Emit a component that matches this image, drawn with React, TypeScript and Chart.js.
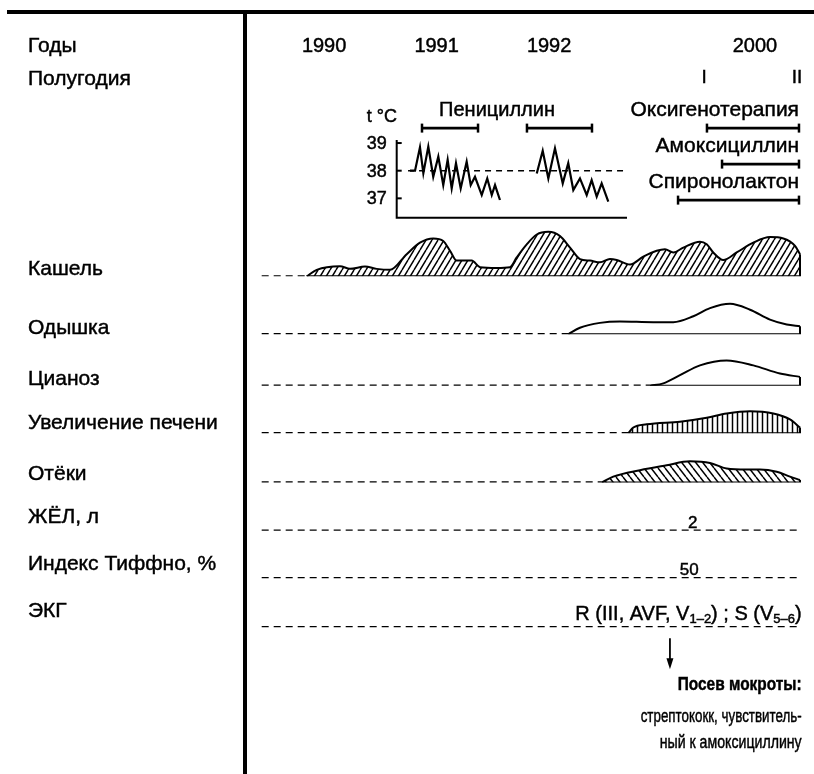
import React, { useEffect, useRef } from 'react';
import { Chart, registerables } from 'chart.js';

Chart.register(...registerables);

const FONT = "'Liberation Sans', Arial, Helvetica, sans-serif";

// ---- timeline (abstract time units; 1990 = 0, 1991 = 10, 1992 = 20, 2000 squeezed at the end)
const X_MIN = -5.7;
const X_MAX = 42.656;
const DASH_START = -5.55;
const DASH_END = 42.45;

const YEAR_LABELS = ['1990', '1991', '1992', '2000'];
const YEAR_POS = [0, 10, 20, 38.3];
const HALF_LABELS = ['I', 'II'];
const HALF_POS = [33.77, 42.03];

// ---- treatment bars
const DRUG_BAR_START = [8.7, 18.03, 34.03, 35.37, 31.46];
const DRUG_BAR_END = [13.68, 23.81, 42.21, 42.21, 42.21];
const DRUG_BAR_ROW = [0, 0, 0, 1, 2];
const DRUG_LABELS = ['Пенициллин', 'Оксигенотерапия', 'Амоксициллин', 'Спиронолактон'];
const DRUG_LABEL_POS = [15.37, 42.21, 42.21, 42.21];
const DRUG_LABEL_ROW = [0, 0, 1, 2];

// ---- symptom intensity curves (arbitrary intensity units)
const COUGH_X = [-1.55, -0.66, 1.41, 2.3, 3.63, 4.67, 5.86, 7.34, 8.52, 9.7, 10.59, 11.19, 11.78, 13.12, 13.86, 15.34, 16.52, 17.12, 18.01, 18.9, 19.93, 20.97, 21.86, 22.74, 23.63, 24.52, 25.41, 26.01, 27.19, 28.37, 29.56, 30.3, 31.04, 31.93, 33.41, 34.01, 34.59, 35.48, 36.67, 38.15, 39.63, 40.82, 41.86, 42.3];
const COUGH_Y = [0, 1.47, 2.29, 1.69, 2.22, 1.69, 1.47, 5.02, 7.62, 8.58, 8.0, 5.78, 3.56, 3.56, 2.07, 1.91, 2.07, 4.29, 7.24, 9.47, 10.07, 9.11, 6.51, 3.91, 3.56, 3.18, 3.91, 3.69, 2.67, 4.44, 5.78, 6.13, 5.4, 6.51, 7.84, 7.24, 5.4, 3.69, 5.4, 7.62, 8.89, 8.58, 6.89, 5.02];
const DYSPNEA_X = [21.7, 22.74, 24.52, 26.3, 29.26, 31.04, 32.82, 34.3, 36.08, 37.86, 39.63, 41.12, 42.3];
const DYSPNEA_Y = [0, 1.47, 2.58, 2.89, 2.73, 2.73, 4.07, 5.91, 6.89, 5.56, 3.33, 2.22, 1.84];
const CYANOSIS_X = [28.97, 30.15, 31.63, 33.41, 35.78, 38.15, 40.52, 42.3];
const CYANOSIS_Y = [0, 0.53, 2.38, 4.6, 5.71, 4.6, 2.76, 2.0];
const LIVER_X = [27.04, 27.48, 28.67, 31.63, 34.01, 35.78, 37.86, 39.93, 41.41, 42.3];
const LIVER_Y = [0, 1.27, 2.0, 2.6, 3.49, 4.44, 4.96, 4.44, 3.11, 1.27];
const EDEMA_X = [24.67, 25.7, 28.08, 30.45, 32.52, 34.3, 35.78, 37.56, 38.74, 40.23, 41.41, 42.3];
const EDEMA_Y = [0, 1.33, 2.8, 3.91, 4.8, 4.44, 3.18, 2.96, 2.96, 2.44, 1.33, 0.58];

const ROW_LABELS = ['Кашель', 'Одышка', 'Цианоз', 'Увеличение печени', 'Отёки', 'ЖЁЛ, л', 'Индекс Тиффно, %', 'ЭКГ'];

// ---- measured values
const VC_TIME = 32.76;
const VC_LABEL = '2';
const TIFF_TIME = 32.45;
const TIFF_LABEL = '50';
const ECG_PARTS = [
  { t: 'R (III, AVF, V', sub: false },
  { t: '1–2', sub: true },
  { t: ') ; S (V', sub: false },
  { t: '5–6', sub: true },
  { t: ')', sub: false },
];
const ARROW_TIME = 30.74;
const SPUTUM_TITLE = 'Посев мокроты:';
const SPUTUM_LINES = ['стрептококк, чувствитель-', 'ный к амоксициллину'];

// ---- temperature inset
const TEMP1_X = [7.63, 8.08, 8.52, 8.82, 9.26, 9.7, 10.15, 10.59, 10.98, 11.34, 11.72, 12.14, 12.67, 13.03, 13.41, 14.01, 14.5, 14.9, 15.19, 15.63];
const TEMP1_Y = [38.0, 38.0, 38.85, 37.91, 38.87, 37.78, 38.51, 37.48, 38.39, 37.36, 38.27, 37.36, 38.33, 37.48, 37.78, 37.12, 37.72, 37.12, 37.48, 36.94];
const TEMP2_X = [18.9, 19.43, 19.93, 20.52, 21.21, 21.7, 22.15, 22.74, 23.34, 23.78, 24.23, 24.67, 25.26];
const TEMP2_Y = [37.9, 38.72, 37.72, 38.81, 37.54, 38.27, 37.3, 37.72, 37.12, 37.66, 37.06, 37.54, 36.88];
const TEMP_NORM = 38;
const TEMP_NORM_FROM = 7.46;
const TEMP_NORM_TO = 26.57;
const TEMP_TICKS = [37, 38, 39];
const INSET_X_MIN = 6.451;
const INSET_X_MAX = 26.922;

// ---- layout (stacked vertical bands, px)
const BAND_IDS = ['yTop', 'yDrugs', 'yCough', 'yDysp', 'yCyan', 'yLiver', 'yEdema', 'yVC', 'yTiff', 'yECG', 'yBottom'];
const BAND_PX = [105, 110, 59.3, 59, 52.4, 48.3, 50.3, 49, 48.4, 50, 142.3];
const PX_PER_UNIT = 4.5;
const ROW_LABEL_DY = [-1, 0, -1, -4, -3, -8, -8, -10];

function hatch(kind: string): CanvasPattern | string {
  const c = document.createElement('canvas');
  let w = 6, h = 10;
  if (kind === 'vert') { w = 5; h = 5; }
  if (kind === 'back') { w = 7; h = 9; }
  c.width = w; c.height = h;
  const g = c.getContext('2d');
  if (!g) return '#fff';
  g.fillStyle = '#fff';
  g.fillRect(0, 0, w, h);
  g.strokeStyle = '#000';
  g.lineWidth = 1.5;
  g.beginPath();
  if (kind === 'vert') {
    g.moveTo(w / 2, 0); g.lineTo(w / 2, h);
  } else if (kind === 'fwd') {
    for (const k of [-1, 0, 1]) { g.moveTo(k * w, h); g.lineTo(k * w + w, 0); }
  } else {
    for (const k of [-1, 0, 1]) { g.moveTo(k * w, 0); g.lineTo(k * w + w, h); }
  }
  g.stroke();
  return g.createPattern(c, 'repeat') || '#fff';
}

function txt(ctx: CanvasRenderingContext2D, s: string, x: number, y: number, size: number, align: CanvasTextAlign = 'left', bold = false, maxWidth?: number) {
  ctx.save();
  ctx.font = `${bold ? 'bold ' : ''}${size}px ${FONT}`;
  ctx.textAlign = align;
  ctx.textBaseline = 'alphabetic';
  ctx.fillStyle = '#000';
  ctx.strokeStyle = '#000';
  ctx.lineWidth = 0.45;
  if (maxWidth) {
    ctx.fillText(s, x, y, maxWidth);
    ctx.strokeText(s, x, y, maxWidth);
  } else {
    ctx.fillText(s, x, y);
    ctx.strokeText(s, x, y);
  }
  ctx.restore();
}

const mainDecor = {
  id: 'mainDecor',
  afterDatasetsDraw(chart: any) {
    const ctx: CanvasRenderingContext2D = chart.ctx;
    const sx = chart.scales.x;
    const X = (v: number) => sx.getPixelForValue(v);
    ctx.save();
    ctx.fillStyle = '#000';
    // frame
    ctx.fillRect(7, 10, 807, 4);
    ctx.fillRect(243, 12, 4, 762);

    // header labels
    txt(ctx, 'Годы', 28, 51.7, 21);
    txt(ctx, 'Полугодия', 28, 85, 21);
    YEAR_LABELS.forEach((l, i) => txt(ctx, l, X(YEAR_POS[i]), 51.7, 20, 'center'));
    HALF_LABELS.forEach((l, i) => txt(ctx, l, X(HALF_POS[i]), 83, 19, 'center'));

    // drug labels
    const yd = chart.scales.yDrugs;
    DRUG_LABELS.forEach((l, i) => {
      const y = yd.getPixelForValue(DRUG_LABEL_ROW[i]) - 12;
      if (i === 0) txt(ctx, l, X(DRUG_LABEL_POS[i]), y, 20, 'center');
      else txt(ctx, l, X(DRUG_LABEL_POS[i]), y, 21, 'right');
    });

    // row labels
    const rowAxes = ['yCough', 'yDysp', 'yCyan', 'yLiver', 'yEdema', 'yVC', 'yTiff', 'yECG'];
    ROW_LABELS.forEach((l, i) => {
      const base = chart.scales[rowAxes[i]].getPixelForValue(0);
      txt(ctx, l, 28, base + ROW_LABEL_DY[i], 21);
    });

    // values
    const vcBase = chart.scales.yVC.getPixelForValue(0);
    txt(ctx, VC_LABEL, X(VC_TIME), vcBase - 3, 17, 'center');
    const tfBase = chart.scales.yTiff.getPixelForValue(0);
    txt(ctx, TIFF_LABEL, X(TIFF_TIME), tfBase - 3, 17, 'center');

    // ECG text with subscripts, right aligned
    const ecgBase = chart.scales.yECG.getPixelForValue(0);
    const right = X(DASH_END);
    let total = 0;
    const widths = ECG_PARTS.map((p) => {
      ctx.font = `${p.sub ? 13 : 20}px ${FONT}`;
      const w = ctx.measureText(p.t).width;
      total += w;
      return w;
    });
    let cx = right - total;
    ECG_PARTS.forEach((p, i) => {
      txt(ctx, p.t, cx, ecgBase - 7.5 + (p.sub ? 3 : 0), p.sub ? 13 : 20);
      cx += widths[i];
    });

    // arrow
    const ax = X(ARROW_TIME);
    ctx.strokeStyle = '#000';
    ctx.lineWidth = 1.8;
    ctx.beginPath();
    ctx.moveTo(ax, ecgBase + 11);
    ctx.lineTo(ax, ecgBase + 34);
    ctx.stroke();
    ctx.beginPath();
    ctx.moveTo(ax - 3.5, ecgBase + 31);
    ctx.lineTo(ax + 3.5, ecgBase + 31);
    ctx.lineTo(ax, ecgBase + 42);
    ctx.closePath();
    ctx.fill();

    // sputum culture text
    txt(ctx, SPUTUM_TITLE, right, ecgBase + 62.6, 18, 'right', true, 124);
    txt(ctx, SPUTUM_LINES[0], right, ecgBase + 95, 18, 'right', false, 161);
    txt(ctx, SPUTUM_LINES[1], right, ecgBase + 120.5, 18, 'right', false, 142);
    ctx.restore();
  },
};

function buildMainConfig(): any {
  const shapes = [
    { xs: COUGH_X, ys: COUGH_Y, axis: 'yCough', fill: hatch('fwd') },
    { xs: DYSPNEA_X, ys: DYSPNEA_Y, axis: 'yDysp', fill: '#fff' },
    { xs: CYANOSIS_X, ys: CYANOSIS_Y, axis: 'yCyan', fill: '#fff' },
    { xs: LIVER_X, ys: LIVER_Y, axis: 'yLiver', fill: hatch('vert') },
    { xs: EDEMA_X, ys: EDEMA_Y, axis: 'yEdema', fill: hatch('back') },
  ];
  const datasets: any[] = [];
  const common = { borderColor: '#000', pointRadius: 0, fill: false, borderWidth: 2, order: 0 };
  for (const s of shapes) {
    const n = s.xs.length;
    datasets.push({
      ...common,
      order: 1,
      data: s.xs.map((x, i) => ({ x, y: s.ys[i] })),
      yAxisID: s.axis,
      backgroundColor: s.fill,
      fill: 'origin',
      tension: 0.4,
      cubicInterpolationMode: 'monotone',
    });
    datasets.push({
      ...common,
      data: [{ x: s.xs[0], y: 0 }, { x: s.xs[n - 1], y: 0 }, { x: s.xs[n - 1], y: s.ys[n - 1] }],
      yAxisID: s.axis,
      tension: 0,
    });
    datasets.push({
      ...common,
      borderWidth: 2.4,
      data: [{ x: DASH_START, y: 0 }, { x: s.xs[0], y: 0 }],
      yAxisID: s.axis,
      borderDash: [7, 5],
    });
  }
  for (const id of ['yVC', 'yTiff', 'yECG']) {
    datasets.push({
      ...common,
      borderWidth: 2.4,
      data: [{ x: DASH_START, y: 0 }, { x: DASH_END, y: 0 }],
      yAxisID: id,
      borderDash: [7, 5],
    });
  }
  DRUG_BAR_START.forEach((st, i) => {
    datasets.push({
      ...common,
      data: [{ x: st, y: DRUG_BAR_ROW[i] }, { x: DRUG_BAR_END[i], y: DRUG_BAR_ROW[i] }],
      yAxisID: 'yDrugs',
      borderWidth: 2.8,
      pointStyle: 'line',
      pointRotation: 90,
      pointRadius: 4.5,
      pointBorderWidth: 2.5,
      pointBorderColor: '#000',
    });
  });

  const scales: any = { x: { type: 'linear', min: X_MIN, max: X_MAX, display: false } };
  BAND_IDS.forEach((id, i) => {
    const sc: any = { type: 'linear', position: 'right', stack: 'rows', stackWeight: BAND_PX[i], weight: i, display: false };
    if (id === 'yDrugs') { sc.min = -0.5; sc.max = 2.5; sc.reverse = true; }
    else if (id === 'yTop' || id === 'yBottom') { sc.min = 0; sc.max = 1; }
    else { sc.min = 0; sc.max = BAND_PX[i] / PX_PER_UNIT; }
    scales[id] = sc;
  });

  return {
    type: 'line',
    data: { datasets },
    options: {
      animation: false,
      responsive: false,
      devicePixelRatio: 1,
      events: [],
      layout: { padding: { left: 260, right: 10, top: 0, bottom: 0 } },
      plugins: { legend: { display: false }, tooltip: { enabled: false } },
      scales,
    },
    plugins: [mainDecor],
  };
}

const insetDecor = {
  id: 'insetDecor',
  beforeDatasetsDraw(chart: any) {
    const ctx: CanvasRenderingContext2D = chart.ctx;
    const { left, right, top, bottom } = chart.chartArea;
    const sy = chart.scales.y;
    ctx.save();
    ctx.strokeStyle = '#000';
    ctx.lineWidth = 2;
    ctx.beginPath();
    ctx.moveTo(left, top);
    ctx.lineTo(left, bottom);
    ctx.lineTo(right, bottom);
    ctx.stroke();
    TEMP_TICKS.forEach((t) => {
      const y = sy.getPixelForValue(t);
      ctx.lineWidth = 2;
      ctx.beginPath();
      ctx.moveTo(left, y);
      ctx.lineTo(left + 5, y);
      ctx.stroke();
      ctx.font = `18px ${FONT}`;
      ctx.fillStyle = '#000';
      ctx.textAlign = 'right';
      ctx.textBaseline = 'middle';
      ctx.lineWidth = 0.45;
      ctx.fillText(String(t), left - 10, y + 1);
      ctx.strokeText(String(t), left - 10, y + 1);
    });
    ctx.font = `18px ${FONT}`;
    ctx.textAlign = 'left';
    ctx.textBaseline = 'alphabetic';
    ctx.lineWidth = 0.45;
    ctx.fillText('t °C', left - 30, top - 18.3);
    ctx.strokeText('t °C', left - 30, top - 18.3);
    ctx.restore();
  },
};

function buildInsetConfig(): any {
  const line = { borderColor: '#000', pointRadius: 0, fill: false, borderWidth: 2.2, tension: 0, borderJoinStyle: 'miter' };
  return {
    type: 'line',
    data: {
      datasets: [
        { ...line, data: TEMP1_X.map((x, i) => ({ x, y: TEMP1_Y[i] })) },
        { ...line, data: TEMP2_X.map((x, i) => ({ x, y: TEMP2_Y[i] })) },
        { ...line, borderWidth: 1.6, borderDash: [6, 5], data: [{ x: TEMP_NORM_FROM, y: TEMP_NORM }, { x: TEMP_NORM_TO, y: TEMP_NORM }] },
      ],
    },
    options: {
      animation: false,
      responsive: false,
      devicePixelRatio: 1,
      events: [],
      layout: { padding: { left: 56.7, right: 13, top: 40, bottom: 12.3 } },
      plugins: { legend: { display: false }, tooltip: { enabled: false } },
      scales: {
        x: { type: 'linear', min: INSET_X_MIN, max: INSET_X_MAX, display: false },
        y: { type: 'linear', min: 36.3, max: 39.11, display: false },
      },
    },
    plugins: [insetDecor],
  };
}

export default function App() {
  const mainRef = useRef<HTMLCanvasElement>(null);
  const insetRef = useRef<HTMLCanvasElement>(null);
  useEffect(() => {
    if (!mainRef.current || !insetRef.current) return;
    const main = new Chart(mainRef.current, buildMainConfig());
    const inset = new Chart(insetRef.current, buildInsetConfig());
    return () => {
      main.destroy();
      inset.destroy();
    };
  }, []);
  return (
    <div style={{ position: 'absolute', left: 0, top: 0, width: 814, height: 774, background: '#fff', overflow: 'hidden' }}>
      <canvas ref={mainRef} width={814} height={774} style={{ position: 'absolute', left: 0, top: 0, width: 814, height: 774 }} />
      <canvas ref={insetRef} width={300} height={130} style={{ position: 'absolute', left: 340, top: 100, width: 300, height: 130 }} />
    </div>
  );
}
